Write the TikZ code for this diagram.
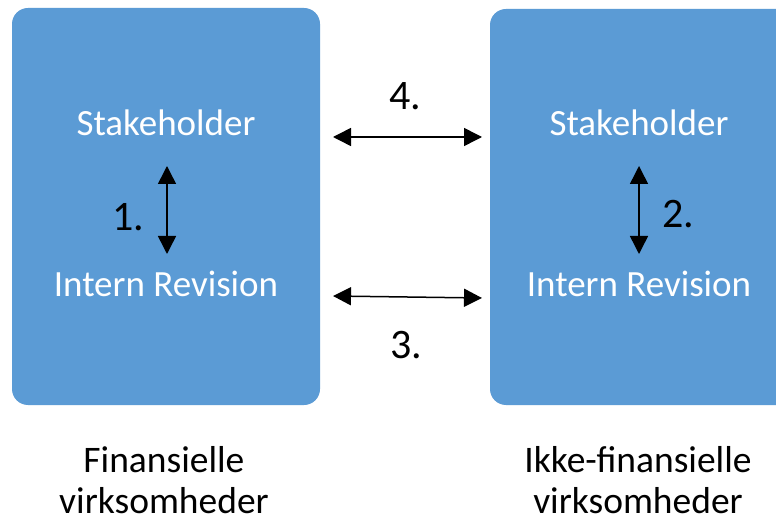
\documentclass[tikz,border=0pt]{standalone}
\usepackage{fontspec}
\setmainfont{Carlito}
\usetikzlibrary{arrows.meta}
\definecolor{boxblue}{HTML}{5B9BD5}
\begin{document}
\begin{tikzpicture}[x=1pt,y=-1pt,
  panel/.style={fill=boxblue, draw=none, rounded corners=16pt},
  intext/.style={text=white, font=\fontsize{37}{41}\selectfont, anchor=base, inner sep=0pt},
  numtext/.style={text=black, font=\fontsize{42}{46}\selectfont, anchor=base, inner sep=0pt},
  captext/.style={text=black, font=\fontsize{37.5}{43}\selectfont, anchor=base, inner sep=0pt},
  link/.style={{Triangle[length=18pt,width=18pt]}-{Triangle[length=18pt,width=18pt]}, line width=1.5pt}
]
\useasboundingbox (0,0) rectangle (776,521);
\clip (0,0) rectangle (776,521);
\fill[white] (0,0) rectangle (776,521);

% panels
\path[panel] (12,8) rectangle (320,405);
\path[panel] (490,9) rectangle (820,405);

% texts inside panels
\node[intext] (s1) at (166,136) {Stakeholder};
\node[intext] (i1) at (166,297) {Intern Revision};
\node[intext] (s2) at (639,136) {Stakeholder};
\node[intext] (i2) at (639,297) {Intern Revision};

% numbers
\node[numtext] (n1) at (128,231) {1.};
\node[numtext] (n2) at (678,228) {2.};
\node[numtext] (n4) at (405,110) {4.};
\node[numtext] (n3) at (406,358) {3.};

% arrow end points
\coordinate (v1t) at (167,166);
\coordinate (v1b) at (167,254);
\coordinate (v2t) at (639,166);
\coordinate (v2b) at (639,254);
\coordinate (h4l) at (333,137);
\coordinate (h4r) at (482,137);
\coordinate (h3l) at (333,296);
\coordinate (h3r) at (482,298);

\draw[link] (v1t) -- (v1b);
\draw[link] (v2t) -- (v2b);
\draw[link] (h4l) -- (h4r);
\draw[link] (h3l) -- (h3r);

% captions
\node[captext] (c1a) at (164,472) {Finansielle};
\node[captext] (c1b) at (164,513) {virksomheder};
\node[captext] (c2a) at (638,472) {Ikke-finansielle};
\node[captext] (c2b) at (638,513) {virksomheder};
\end{tikzpicture}
\end{document}
